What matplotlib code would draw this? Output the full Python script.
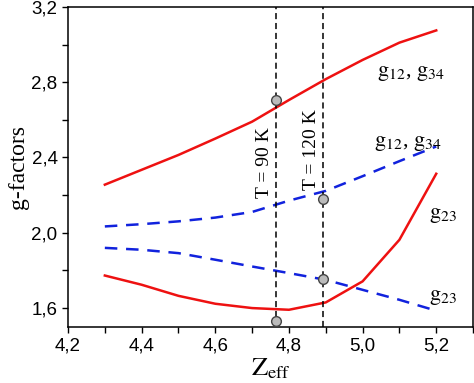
import matplotlib
matplotlib.use("Agg")
import matplotlib.pyplot as plt
from matplotlib.ticker import MultipleLocator, FuncFormatter

z = [4.3, 4.4, 4.5, 4.6, 4.7, 4.8, 4.9, 5.0, 5.1, 5.2]
g12_red = [2.255, 2.334, 2.413, 2.50, 2.59, 2.705, 2.816, 2.918, 3.01, 3.075]
g23_red = [1.772, 1.723, 1.664, 1.622, 1.599, 1.59, 1.629, 1.741, 1.962, 2.313]
g12_blue = [2.033, 2.045, 2.06, 2.08, 2.11, 2.17, 2.222, 2.30, 2.38, 2.458]
g23_blue = [1.919, 1.909, 1.891, 1.856, 1.82, 1.785, 1.749, 1.696, 1.643, 1.585]

t_lines = [4.765, 4.892]
t_labels = ["T = 90 K", "T = 120 K"]
exp_z = [4.765, 4.892, 4.892, 4.765]
exp_g = [2.706, 2.18, 1.753, 1.528]

plt.rcParams['mathtext.fontset'] = 'stix'
serif = 'Liberation Serif'

fig = plt.figure(figsize=(4.74, 3.83), dpi=100)
ax = fig.add_axes([0.1435, 0.147, 0.8545, 0.835])

ax.plot(z, g12_red, color='#ee1111', lw=1.8)
ax.plot(z, g23_red, color='#ee1111', lw=1.8)
ax.plot(z, g12_blue, color='#1122dd', lw=1.8, dashes=(5, 3.5))
ax.plot(z, g23_blue, color='#1122dd', lw=1.8, dashes=(5, 3.5))

for xv in t_lines:
    ax.axvline(xv, color='black', lw=1.1, dashes=(4, 2.5))

ax.plot(exp_z, exp_g, 'o', ms=7, mfc='#bbbbbb', mec='#444444', mew=1.0, zorder=5)

ax.text(4.757, 2.37, t_labels[0], rotation=90, ha='right', va='center',
        fontsize=14, family=serif)
ax.text(4.884, 2.44, t_labels[1], rotation=90, ha='right', va='center',
        fontsize=14, family=serif)

lab12 = r'$\mathrm{g}_{12}$, $\mathrm{g}_{34}$'
lab23 = r'$\mathrm{g}_{23}$'
ax.text(5.04, 2.83, lab12, fontsize=16, family=serif)
ax.text(5.03, 2.46, lab12, fontsize=16, family=serif)
ax.text(5.18, 2.08, lab23, fontsize=16, family=serif)
ax.text(5.18, 1.64, lab23, fontsize=16, family=serif)

ax.set_xlim(4.2, 5.3)
ax.set_ylim(1.5, 3.2)
ax.xaxis.set_major_locator(MultipleLocator(0.2))
ax.xaxis.set_minor_locator(MultipleLocator(0.1))
ax.yaxis.set_minor_locator(MultipleLocator(0.2))
ax.set_yticks([1.6, 2.0, 2.4, 2.8, 3.2])
comma = FuncFormatter(lambda v, p: ('%.1f' % v).replace('.', ','))
ax.xaxis.set_major_formatter(comma)
ax.yaxis.set_major_formatter(comma)
ax.tick_params(which='both', direction='out', length=4, width=1)
ax.tick_params(labelsize=13.5)
for lab in ax.get_xticklabels() + ax.get_yticklabels():
    lab.set_family('Liberation Sans')
for s in ax.spines.values():
    s.set_linewidth(1.1)

ax.set_xlabel(r'$\mathrm{Z}_{\mathrm{eff}}$', fontsize=19, labelpad=1)
ax.set_ylabel('g-factors', fontsize=17, family=serif, labelpad=2)

fig.savefig('out.png', dpi=100)
